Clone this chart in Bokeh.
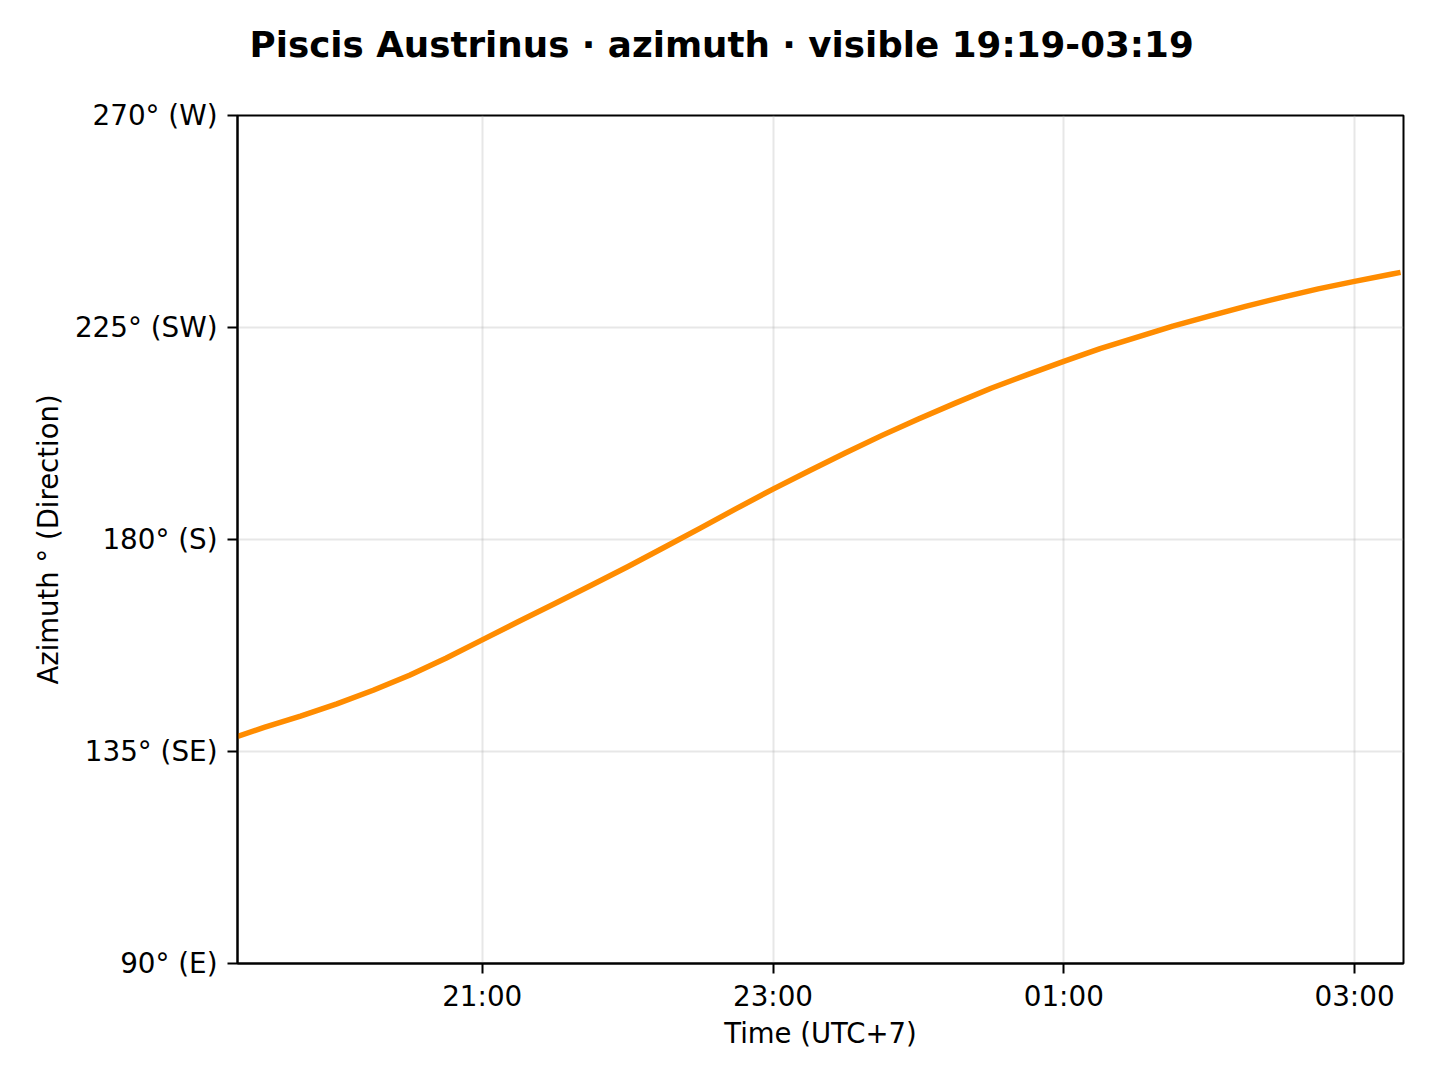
from bokeh.plotting import figure
from bokeh.models import FixedTicker, Range1d
from bokeh.layouts import column
from bokeh.core.properties import value
from bokeh.embed import file_html
from bokeh.resources import INLINE

# ---- data ----
times = ["19:19", "19:30", "19:45", "20:00", "20:15", "20:30", "20:45",
         "21:00", "21:15", "21:30", "21:45", "22:00", "22:15", "22:30", "22:45",
         "23:00", "23:15", "23:30", "23:45", "00:00", "00:15", "00:30", "00:45",
         "01:00", "01:15", "01:30", "01:45", "02:00", "02:15", "02:30", "02:45",
         "03:00", "03:15", "03:19"]
azimuth = [138.2, 140.1, 142.5, 145.1, 148.0, 151.2, 154.8,
           158.7, 162.6, 166.4, 170.3, 174.2, 178.3, 182.4, 186.6,
           190.7, 194.6, 198.4, 202.1, 205.6, 208.9, 212.1, 215.0,
           217.8, 220.5, 222.9, 225.3, 227.4, 229.5, 231.4, 233.2,
           234.8, 236.3, 236.7]

x_tick_labels = ["21:00", "23:00", "01:00", "03:00"]
y_ticks = [90, 135, 180, 225, 270]
y_tick_labels = ["90° (E)", "135° (SE)", "180° (S)", "225° (SW)", "270° (W)"]

title_text = "Piscis Austrinus · azimuth · visible 19:19-03:19"
x_label = "Time (UTC+7)"
y_label = "Azimuth ° (Direction)"


def to_hours(s):
    h, m = s.split(":")
    v = int(h) + int(m) / 60.0
    if v < 12:
        v += 24
    return v


xs = [to_hours(t) for t in times]
x_ticks = [to_hours(t) for t in x_tick_labels]

FONT = "DejaVu Sans"

W = 1432
TITLE_H = 80
BL, BR = 237, 29

# ---- title strip (a small svg figure holding the title text) ----
t = figure(width=W, height=TITLE_H, output_backend="svg", toolbar_location=None,
           x_range=Range1d(0, 1), y_range=Range1d(0, 1),
           x_axis_type=None, y_axis_type=None,
           min_border_left=BL, min_border_right=BR,
           min_border_top=0, min_border_bottom=0)
t.outline_line_color = None
t.grid.visible = False
t.background_fill_color = "white"
t.border_fill_color = "white"
# anchored at the strip's bottom-left corner, shifted in pixels
t.text(x=[0], y=[0], text=[title_text], x_offset=12, y_offset=-36,
       text_font=value(FONT), text_font_size="35.7px", text_font_style="bold",
       text_color="black", text_align="left", text_baseline="alphabetic")

# ---- main chart ----
p = figure(width=W, height=1072 - TITLE_H, output_backend="svg", toolbar_location=None,
           x_range=Range1d(to_hours("19:19"), to_hours("03:19") + 0.02),
           y_range=Range1d(90, 270),
           min_border_left=BL, min_border_right=BR,
           min_border_top=115 - TITLE_H, min_border_bottom=109)

p.line(xs, azimuth, line_color="#ff8c00", line_width=5.5, line_join="round")

# frame
p.outline_line_color = "black"
p.outline_line_width = 2
p.outline_line_alpha = 1.0
p.background_fill_color = "white"
p.border_fill_color = "white"

# axes
for ax in (p.xaxis[0], p.yaxis[0]):
    ax.axis_line_color = "black"
    ax.axis_line_width = 2
    ax.major_tick_line_color = "black"
    ax.major_tick_line_width = 2
    ax.major_tick_out = 10
    ax.major_tick_in = 0
    ax.minor_tick_line_color = None
    ax.major_label_text_font = FONT
    ax.major_label_text_font_size = "27.8px"
    ax.major_label_text_color = "black"
    ax.axis_label_text_font = FONT
    ax.axis_label_text_font_size = "27.5px"
    ax.axis_label_text_font_style = "normal"
    ax.axis_label_text_color = "black"

p.xaxis.ticker = FixedTicker(ticks=x_ticks)
p.xaxis.major_label_overrides = {v: lab for v, lab in zip(x_ticks, x_tick_labels)}
p.xaxis.axis_label = x_label
p.xaxis.major_label_standoff = 6
p.xaxis.axis_label_standoff = 1

p.yaxis.ticker = FixedTicker(ticks=y_ticks)
p.yaxis.major_label_overrides = {v: lab for v, lab in zip(y_ticks, y_tick_labels)}
p.yaxis.axis_label = y_label
p.yaxis.major_label_standoff = 10
p.yaxis.axis_label_standoff = 8

# grid
p.xgrid.ticker = FixedTicker(ticks=x_ticks)
p.ygrid.ticker = FixedTicker(ticks=y_ticks)
for g in (p.xgrid[0], p.ygrid[0]):
    g.grid_line_color = "#b0b0b0"
    g.grid_line_alpha = 0.3
    g.grid_line_width = 2

layout = column(t, p, spacing=0)
open("out.html", "w").write(file_html(layout, INLINE))
